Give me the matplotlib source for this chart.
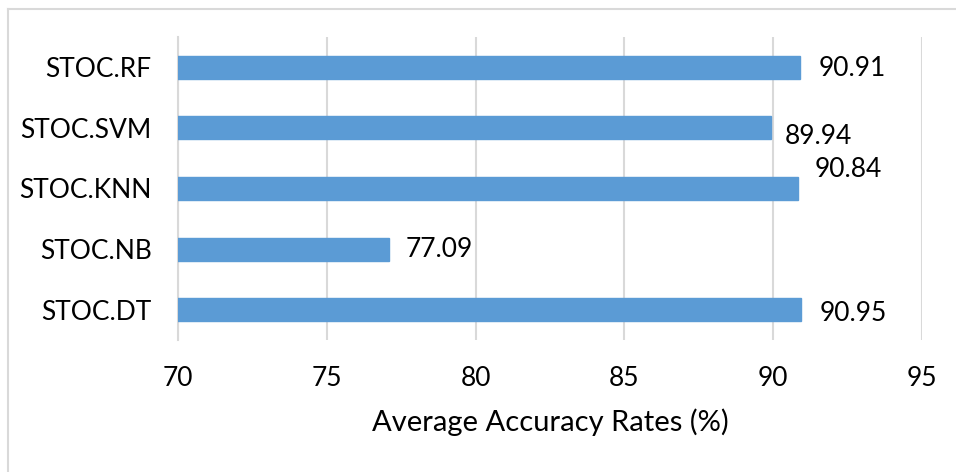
import matplotlib
matplotlib.use('Agg')
import matplotlib.pyplot as plt
from matplotlib.lines import Line2D

plt.rcParams['font.family'] = ['Lato', 'DejaVu Sans']

models = ['STOC.DT', 'STOC.NB', 'STOC.KNN', 'STOC.SVM', 'STOC.RF']
accuracy = [90.95, 77.09, 90.84, 89.94, 90.91]
# label nudges in points (dx, dy), as the labels were placed by hand
label_offsets = [(13, -3), (12, 0), (12, 14), (10, -6), (13, -1)]
xticks = [70, 75, 80, 85, 90, 95]

fig = plt.figure(figsize=(9.56, 4.72), dpi=100)
ax = fig.add_axes([0.1862, 0.2797, 0.778, 0.642])

bars = ax.barh(range(len(models)), accuracy, height=0.38, left=0,
               color='#5B9BD5', edgecolor='#5B9BD5', zorder=3)
ax.set_xlim(70, 95)
ax.set_ylim(-0.5, len(models) - 0.5)
ax.set_yticks(range(len(models)))
ax.set_yticklabels(models, fontsize=19)
ax.set_xticks(xticks)
ax.set_xticklabels([str(t) for t in xticks], fontsize=19)
ax.tick_params(length=0)
ax.tick_params(axis='x', pad=19)
ax.tick_params(axis='y', pad=19)

ax.grid(axis='x', color='#d9d9d9', linewidth=1.5, zorder=0)
for s in ['top', 'right', 'bottom']:
    ax.spines[s].set_visible(False)
ax.spines['left'].set_color('#d9d9d9')
ax.spines['left'].set_linewidth(1.5)

for i, (v, (dx, dy)) in enumerate(zip(accuracy, label_offsets)):
    ax.annotate(f'{v:.2f}', (v, i), xytext=(dx, dy), textcoords='offset points',
                ha='left', va='center', fontsize=19)

ax.set_xlabel('Average Accuracy Rates (%)', fontsize=21, labelpad=12)

# chart frame, only its top and left edges fall inside the image
fx, fy = 7.5 / 956, 1 - 8.5 / 472
fig.add_artist(Line2D([fx, 1], [fy, fy], transform=fig.transFigure,
                      color='#d9d9d9', linewidth=1.5))
fig.add_artist(Line2D([fx, fx], [0, fy], transform=fig.transFigure,
                      color='#d9d9d9', linewidth=1.5))

fig.savefig('out.png', dpi=100)
